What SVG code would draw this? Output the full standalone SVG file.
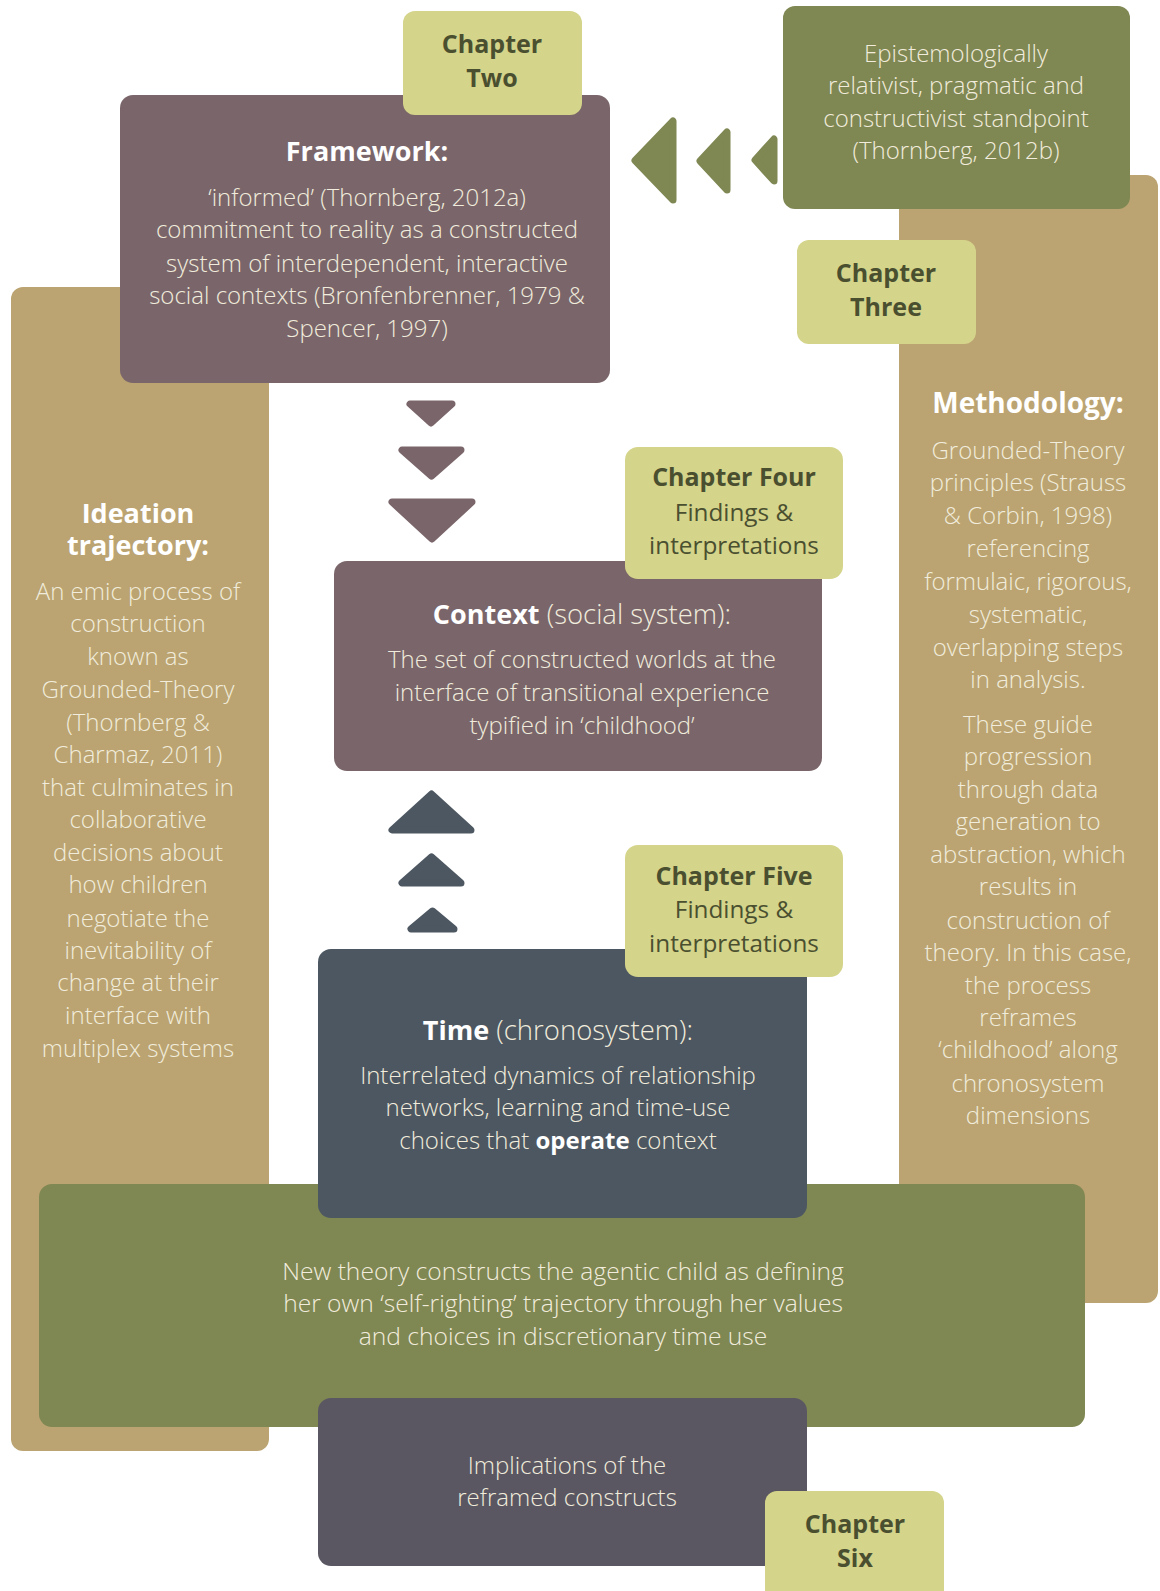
<svg xmlns="http://www.w3.org/2000/svg" width="1160" height="1591" viewBox="0 0 1160 1591">
<style>
text{font-family:"Open Sans","Noto Sans","Liberation Sans",sans-serif;text-anchor:middle}
.b{font-size:24px;font-weight:300;fill:#f1ecdc}
.h{font-size:27px;font-weight:700;fill:#ffffff}
.c{font-size:25px;font-weight:700;fill:#4a4f30}
.cn{font-size:24.3px;font-weight:400;fill:#4a4f30}
.bold{font-weight:700;fill:#ffffff}
.sub{font-size:27.5px}
.tan{fill:#bba471}
.mauve{fill:#7a666a}
.olive{fill:#7f8753}
.slate{fill:#4d5761}
.impl{fill:#5a5762}
.chap{fill:#d4d48a}
.chevm{fill:#7a666a;stroke:#7a666a;stroke-width:7;stroke-linejoin:round}
.chevs{fill:#4d5761;stroke:#4d5761;stroke-width:7;stroke-linejoin:round}
.chevo{fill:#7f8753;stroke:#7f8753;stroke-width:7;stroke-linejoin:round}
</style>
<rect width="1160" height="1591" fill="#ffffff"/>

<g id="ideation">
<rect class="tan" x="11" y="287" width="258" height="1164" rx="12"/>
<text class="h" x="138" y="523">Ideation</text>
<text class="h" x="138" y="555">trajectory:</text>
<text class="b" x="138" y="600">An emic process of</text>
<text class="b" x="138" y="632">construction</text>
<text class="b" x="138" y="665">known as</text>
<text class="b" x="138" y="698">Grounded-Theory</text>
<text class="b" x="138" y="731">(Thornberg &amp;</text>
<text class="b" x="138" y="763">Charmaz, 2011)</text>
<text class="b" x="138" y="796">that culminates in</text>
<text class="b" x="138" y="828">collaborative</text>
<text class="b" x="138" y="861">decisions about</text>
<text class="b" x="138" y="893">how children</text>
<text class="b" x="138" y="927">negotiate the</text>
<text class="b" x="138" y="959">inevitability of</text>
<text class="b" x="138" y="991">change at their</text>
<text class="b" x="138" y="1024">interface with</text>
<text class="b" x="138" y="1057">multiplex systems</text>
</g>

<g id="methodology">
<rect class="tan" x="899" y="175" width="259" height="1128" rx="12"/>
<text class="h" x="1028" y="413" style="font-size:28px">Methodology:</text>
<text class="b" x="1028" y="459">Grounded-Theory</text>
<text class="b" x="1028" y="491">principles (Strauss</text>
<text class="b" x="1028" y="524">&amp; Corbin, 1998)</text>
<text class="b" x="1028" y="557">referencing</text>
<text class="b" x="1028" y="590">formulaic, rigorous,</text>
<text class="b" x="1028" y="623">systematic,</text>
<text class="b" x="1028" y="656">overlapping steps</text>
<text class="b" x="1028" y="688">in analysis.</text>
<text class="b" x="1028" y="733">These guide</text>
<text class="b" x="1028" y="765">progression</text>
<text class="b" x="1028" y="798">through data</text>
<text class="b" x="1028" y="830">generation to</text>
<text class="b" x="1028" y="863">abstraction, which</text>
<text class="b" x="1028" y="895">results in</text>
<text class="b" x="1028" y="929">construction of</text>
<text class="b" x="1028" y="961">theory. In this case,</text>
<text class="b" x="1028" y="994">the process</text>
<text class="b" x="1028" y="1026">reframes</text>
<text class="b" x="1028" y="1058">‘childhood’ along</text>
<text class="b" x="1028" y="1092">chronosystem</text>
<text class="b" x="1028" y="1124">dimensions</text>
</g>

<g id="framework">
<rect class="mauve" x="120" y="95" width="490" height="288" rx="13"/>
<text class="h" x="367" y="161">Framework:</text>
<text class="b" x="367" y="206">‘informed’ (Thornberg, 2012a)</text>
<text class="b" x="367" y="238">commitment to reality as a constructed</text>
<text class="b" x="367" y="272">system of interdependent, interactive</text>
<text class="b" x="367" y="304">social contexts (Bronfenbrenner, 1979 &amp;</text>
<text class="b" x="367" y="337">Spencer, 1997)</text>
</g>

<g id="chapter-two">
<rect class="chap" x="403" y="11" width="179" height="104" rx="12"/>
<text class="c" x="492" y="53">Chapter</text>
<text class="c" x="492" y="87">Two</text>
</g>

<g id="standpoint">
<rect class="olive" x="783" y="6" width="347" height="203" rx="12"/>
<text class="b" x="956" y="62">Epistemologically</text>
<text class="b" x="956" y="94">relativist, pragmatic and</text>
<text class="b" x="956" y="127">constructivist standpoint</text>
<text class="b" x="956" y="159">(Thornberg, 2012b)</text>
</g>

<g id="chapter-three">
<rect class="chap" x="797" y="240" width="179" height="104" rx="12"/>
<text class="c" x="886" y="282">Chapter</text>
<text class="c" x="886" y="316">Three</text>
</g>

<g id="context">
<rect class="mauve" x="334" y="561" width="488" height="210" rx="13"/>
<text class="b sub" x="582" y="624"><tspan class="bold" style="font-size:27px">Context</tspan> (social system):</text>
<text class="b" x="582" y="668">The set of constructed worlds at the</text>
<text class="b" x="582" y="701">interface of transitional experience</text>
<text class="b" x="582" y="734">typified in ‘childhood’</text>
</g>

<g id="chapter-four">
<rect class="chap" x="625" y="447" width="218" height="132" rx="13"/>
<text class="c" x="734" y="486">Chapter Four</text>
<text class="cn" x="734" y="521">Findings &amp;</text>
<text class="cn" x="734" y="554">interpretations</text>
</g>

<g id="outcome">
<rect class="olive" x="39" y="1184" width="1046" height="243" rx="13"/>
<text class="b" x="563" y="1280" style="font-size:24.6px">New theory constructs the agentic child as defining</text>
<text class="b" x="563" y="1312" style="font-size:24.6px">her own ‘self-righting’ trajectory through her values</text>
<text class="b" x="563" y="1345" style="font-size:24.6px">and choices in discretionary time use</text>
</g>

<g id="time">
<rect class="slate" x="318" y="949" width="489" height="269" rx="13"/>
<text class="b sub" x="558" y="1040"><tspan class="bold" style="font-size:27px">Time</tspan> (chronosystem):</text>
<text class="b" x="558" y="1084">Interrelated dynamics of relationship</text>
<text class="b" x="558" y="1116">networks, learning and time-use</text>
<text class="b" x="558" y="1149">choices that <tspan class="bold">operate</tspan> context</text>
</g>

<g id="chapter-five">
<rect class="chap" x="625" y="845" width="218" height="132" rx="13"/>
<text class="c" x="734" y="885">Chapter Five</text>
<text class="cn" x="734" y="918">Findings &amp;</text>
<text class="cn" x="734" y="952">interpretations</text>
</g>

<g id="implications">
<rect class="impl" x="318" y="1398" width="489" height="168" rx="13"/>
<text class="b" x="567" y="1474">Implications of the</text>
<text class="b" x="567" y="1506">reframed constructs</text>
</g>

<g id="chapter-six">
<rect class="chap" x="765" y="1491" width="179" height="130" rx="12"/>
<text class="c" x="855" y="1533">Chapter</text>
<text class="c" x="855" y="1567">Six</text>
</g>

<g id="connectors">
<polygon class="chevo" points="673,121 673,200 635,160.5"/>
<polygon class="chevo" points="727,132 727,190 700,161"/>
<polygon class="chevo" points="774,139 774,181 755,160"/>
<polygon class="chevm" points="410,404 452,404 431,423"/>
<polygon class="chevm" points="402,450 461,450 431.5,476"/>
<polygon class="chevm" points="392,502 472,502 432,539"/>
<polygon class="chevs" points="392,830 471,830 431.5,794"/>
<polygon class="chevs" points="402,883 461,883 431.5,857"/>
<polygon class="chevs" points="411,929 454,929 432.5,911"/>
</g>
</svg>
